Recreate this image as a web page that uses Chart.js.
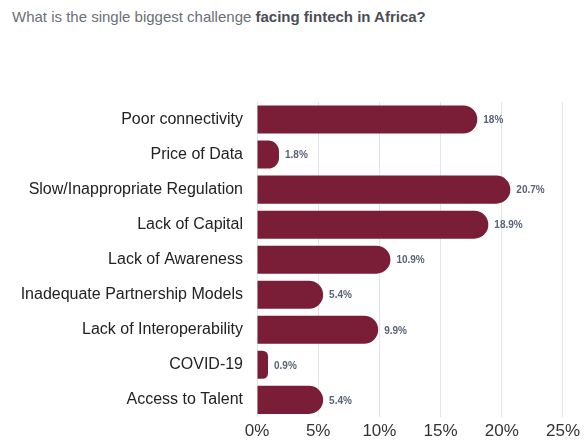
<!DOCTYPE html>
<html>
<head>
<meta charset="utf-8">
<script src="https://cdn.jsdelivr.net/npm/chart.js@4/dist/chart.umd.min.js"></script>
<style>
    html, body { margin: 0; padding: 0; background: #fff; }
    .wrap { position: relative; width: 584px; height: 441px; }
    .title {
        position: absolute; left: 12px; top: 8px;
        font: 15px "Liberation Sans", Arial, sans-serif;
        color: #6b6f78; white-space: nowrap;
    }
    .title b { color: #4a4e57; }
    canvas { position: absolute; left: 0; top: 0; }
</style>
</head>
<body>
<div class="wrap">
    <div class="title">What is the single biggest challenge <b>facing fintech in Africa?</b></div>
    <canvas id="challengeChart" width="584" height="441"></canvas>
</div>
<script>
// Survey answers, share of respondents (%)
const categories = [
    'Poor connectivity',
    'Price of Data',
    'Slow/Inappropriate Regulation',
    'Lack of Capital',
    'Lack of Awareness',
    'Inadequate Partnership Models',
    'Lack of Interoperability',
    'COVID-19',
    'Access to Talent'
];
const shares = [18, 1.8, 20.7, 18.9, 10.9, 5.4, 9.9, 0.9, 5.4];
const xTicks = [0, 5, 10, 15, 20, 25];

const barColor = '#7a1e38';

// Writes the percentage just past the end of each bar
const valueLabels = {
    id: 'valueLabels',
    afterDatasetsDraw(chart) {
        const ctx = chart.ctx;
        const meta = chart.getDatasetMeta(0);
        ctx.save();
        ctx.font = 'bold 10px "Liberation Sans", Arial, sans-serif';
        ctx.fillStyle = '#5a6277';
        ctx.textAlign = 'left';
        ctx.textBaseline = 'middle';
        meta.data.forEach((bar, i) => {
            ctx.fillText(shares[i] + '%', bar.x + 6, bar.y + 1);
        });
        ctx.restore();
    }
};

const ctx = document.getElementById('challengeChart').getContext('2d');
new Chart(ctx, {
    type: 'bar',
    data: {
        labels: categories,
        datasets: [{
            data: shares,
            backgroundColor: barColor,
            borderSkipped: false,
            borderRadius: { topLeft: 0, bottomLeft: 0, topRight: 14, bottomRight: 14 },
            barPercentage: 0.8,
            categoryPercentage: 1
        }]
    },
    options: {
        indexAxis: 'y',
        responsive: false,
        animation: false,
        layout: { padding: { top: 102, right: 17, left: 0, bottom: 0 } },
        plugins: {
            legend: { display: false },
            tooltip: { enabled: false }
        },
        scales: {
            x: {
                min: 0,
                max: 25,
                afterBuildTicks(scale) {
                    scale.ticks = xTicks.map(v => ({ value: v }));
                },
                afterFit(scale) { scale.height = 22; },
                grid: { color: '#e4e4e6', drawTicks: false },
                border: { display: false },
                ticks: {
                    padding: 4,
                    color: '#333',
                    font: { family: '"Liberation Sans", Arial, sans-serif', size: 17 },
                    callback: v => v + '%'
                }
            },
            y: {
                afterFit(scale) { scale.width = 257; },
                grid: { display: false, drawTicks: false },
                border: { display: false },
                ticks: {
                    padding: 14,
                    color: '#222',
                    font: { family: '"Liberation Sans", Arial, sans-serif', size: 16 }
                }
            }
        }
    },
    plugins: [valueLabels]
});
</script>
</body>
</html>
